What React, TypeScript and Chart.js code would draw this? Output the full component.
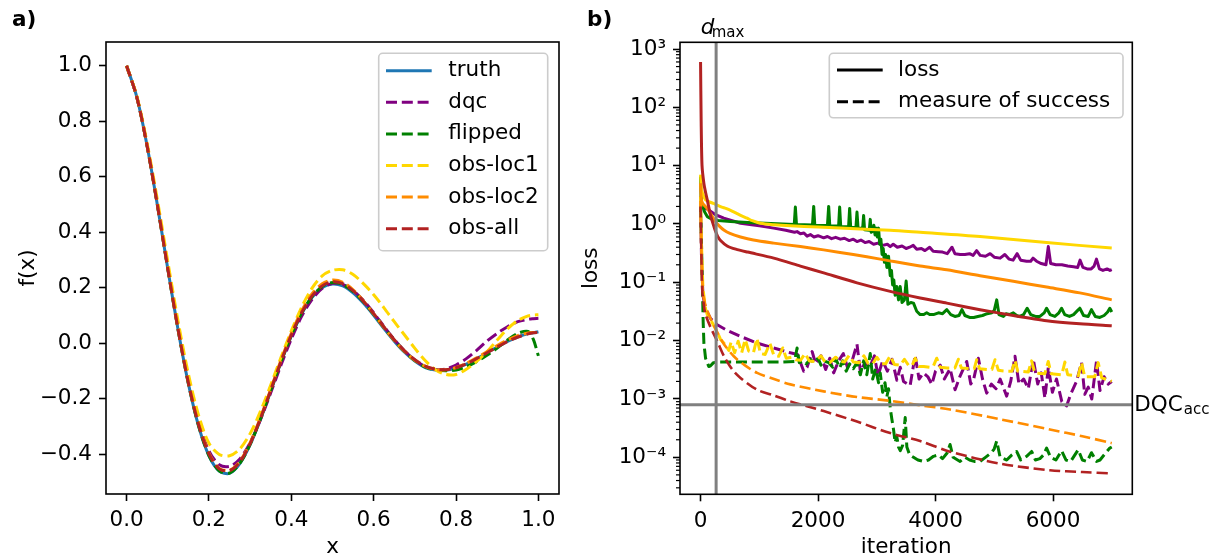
import React, { useEffect, useRef } from "react";
import { Chart, registerables } from "chart.js";

Chart.register(...registerables);

const FONT_FAMILY = '"DejaVu Sans", "Liberation Sans", sans-serif';
const FS = 21.5;
const DASH = [11, 4.8];

// ---------------- Panel a) : f(x) ----------------
const xGrid = [0, 0.025, 0.05, 0.075, 0.1, 0.125, 0.15, 0.175, 0.2, 0.225, 0.25, 0.275, 0.3, 0.325, 0.35, 0.375, 0.4, 0.425, 0.45, 0.475, 0.5, 0.525, 0.55, 0.575, 0.6, 0.625, 0.65, 0.675, 0.7, 0.725, 0.75, 0.775, 0.8, 0.825, 0.85, 0.875, 0.9, 0.925, 0.95, 0.975, 0.9875, 1.0];
const truthY = [1.0, 0.886, 0.71, 0.496, 0.269, 0.049, -0.145, -0.299, -0.405, -0.46, -0.468, -0.433, -0.365, -0.274, -0.172, -0.068, 0.026, 0.106, 0.165, 0.201, 0.214, 0.207, 0.182, 0.145, 0.101, 0.053, 0.008, -0.032, -0.064, -0.087, -0.096, -0.097, -0.089, -0.075, -0.056, -0.034, -0.013, 0.007, 0.023, 0.035, 0.038, 0.042];
const dqcY = [1.0, 0.886, 0.712, 0.5, 0.275, 0.058, -0.133, -0.284, -0.388, -0.437, -0.443, -0.416, -0.358, -0.275, -0.178, -0.078, 0.016, 0.097, 0.158, 0.198, 0.216, 0.212, 0.19, 0.155, 0.11, 0.061, 0.014, -0.027, -0.06, -0.083, -0.094, -0.092, -0.078, -0.055, -0.025, 0.008, 0.036, 0.06, 0.078, 0.087, 0.089, 0.09];
const flippedY = [1.0, 0.886, 0.71, 0.497, 0.27, 0.05, -0.144, -0.298, -0.404, -0.459, -0.467, -0.432, -0.364, -0.272, -0.169, -0.065, 0.029, 0.109, 0.168, 0.205, 0.219, 0.212, 0.187, 0.15, 0.105, 0.057, 0.011, -0.029, -0.062, -0.085, -0.096, -0.099, -0.096, -0.084, -0.066, -0.043, -0.017, 0.012, 0.036, 0.043, 0.015, -0.045];
const obsLoc1Y = [1.0, 0.89, 0.72, 0.515, 0.295, 0.08, -0.11, -0.26, -0.36, -0.4, -0.405, -0.38, -0.325, -0.245, -0.15, -0.05, 0.045, 0.13, 0.198, 0.243, 0.263, 0.265, 0.248, 0.215, 0.175, 0.128, 0.078, 0.03, -0.018, -0.062, -0.095, -0.112, -0.112, -0.093, -0.065, -0.03, 0.012, 0.052, 0.082, 0.099, 0.102, 0.103];
const obsLoc2Y = [1.0, 0.886, 0.711, 0.498, 0.272, 0.053, -0.14, -0.29, -0.395, -0.45, -0.457, -0.425, -0.358, -0.268, -0.165, -0.06, 0.036, 0.117, 0.178, 0.215, 0.228, 0.22, 0.193, 0.153, 0.106, 0.057, 0.011, -0.029, -0.061, -0.083, -0.094, -0.095, -0.087, -0.072, -0.052, -0.03, -0.008, 0.012, 0.028, 0.037, 0.039, 0.04];
const obsAllY = [1.0, 0.886, 0.71, 0.497, 0.27, 0.051, -0.142, -0.294, -0.398, -0.452, -0.458, -0.427, -0.361, -0.271, -0.169, -0.065, 0.03, 0.11, 0.17, 0.207, 0.222, 0.215, 0.19, 0.152, 0.107, 0.059, 0.013, -0.027, -0.059, -0.082, -0.093, -0.095, -0.088, -0.074, -0.055, -0.034, -0.013, 0.007, 0.023, 0.034, 0.038, 0.04];
const xTicksA = [0, 0.2, 0.4, 0.6, 0.8, 1.0];
const yTicksA = [-0.4, -0.2, 0, 0.2, 0.4, 0.6, 0.8, 1.0];
const legendLabelsA = ["truth", "dqc", "flipped", "obs-loc1", "obs-loc2", "obs-all"];
const colorsA = ["#1f77b4", "#800080", "#008000", "#ffd700", "#ff8c00", "#b22222"];

// ---------------- Panel b) : loss vs iteration ([iteration, value]) ----------------
const dqcLoss: [number, number][] = [[0, 3.0], [15, 2.3], [40, 2.0], [114, 1.8], [255, 1.44], [396, 1.26], [680, 1.03], [1000, 0.93], [1246, 0.85], [1450, 0.78], [1600, 0.72], [1643, 0.74], [1700, 0.68], [1760, 0.7], [1813, 0.62], [1870, 0.66], [1930, 0.6], [2000, 0.63], [2096, 0.58], [2160, 0.61], [2230, 0.56], [2300, 0.59], [2380, 0.55], [2450, 0.57], [2530, 0.52], [2600, 0.55], [2663, 0.5], [2730, 0.53], [2800, 0.48], [2870, 0.5], [2946, 0.45], [3020, 0.47], [3100, 0.43], [3180, 0.45], [3229, 0.41], [3280, 0.45], [3350, 0.4], [3430, 0.42], [3500, 0.38], [3560, 0.4], [3620, 0.43], [3680, 0.37], [3760, 0.38], [3820, 0.35], [3900, 0.4], [3960, 0.34], [4050, 0.335], [4120, 0.33], [4200, 0.31], [4280, 0.4], [4330, 0.31], [4420, 0.3], [4500, 0.3], [4580, 0.31], [4640, 0.29], [4700, 0.35], [4760, 0.29], [4850, 0.28], [4930, 0.31], [5000, 0.27], [5100, 0.26], [5180, 0.3], [5250, 0.25], [5320, 0.24], [5390, 0.31], [5450, 0.24], [5550, 0.23], [5620, 0.23], [5660, 0.26], [5720, 0.23], [5800, 0.21], [5880, 0.2], [5920, 0.41], [5960, 0.21], [6050, 0.2], [6150, 0.2], [6250, 0.19], [6350, 0.185], [6420, 0.18], [6460, 0.24], [6510, 0.18], [6580, 0.17], [6650, 0.17], [6700, 0.19], [6740, 0.25], [6790, 0.17], [6850, 0.16], [6920, 0.17], [6970, 0.16], [7000, 0.165]];
const dqcMS: [number, number][] = [[0, 2.5], [15, 0.3], [40, 0.06], [85, 0.035], [170, 0.024], [284, 0.0187], [450, 0.015], [680, 0.0118], [963, 0.0091], [1246, 0.0075], [1529, 0.0062], [1650, 0.0058], [1756, 0.003], [1813, 0.0035], [1900, 0.0065], [1960, 0.004], [2050, 0.0055], [2130, 0.0032], [2200, 0.005], [2266, 0.0028], [2350, 0.0045], [2430, 0.006], [2500, 0.0035], [2580, 0.0045], [2663, 0.0087], [2720, 0.003], [2800, 0.0042], [2880, 0.0035], [2960, 0.0055], [3020, 0.0025], [3100, 0.0045], [3180, 0.003], [3260, 0.0048], [3342, 0.0021], [3400, 0.0035], [3455, 0.002], [3568, 0.0017], [3653, 0.0056], [3720, 0.0022], [3795, 0.0028], [3870, 0.0024], [3937, 0.00178], [4000, 0.003], [4080, 0.0038], [4150, 0.0022], [4248, 0.0033], [4333, 0.00144], [4420, 0.0025], [4531, 0.0044], [4600, 0.0018], [4650, 0.0022], [4729, 0.005], [4800, 0.0022], [4871, 0.00126], [4950, 0.0018], [5030, 0.0015], [5100, 0.0022], [5211, 0.00112], [5280, 0.002], [5353, 0.0054], [5420, 0.0018], [5500, 0.0022], [5580, 0.0015], [5664, 0.0048], [5740, 0.0018], [5800, 0.0028], [5862, 0.00104], [5920, 0.0035], [5990, 0.0013], [6060, 0.0022], [6150, 0.0009], [6231, 0.00076], [6300, 0.0012], [6400, 0.002], [6486, 0.0042], [6540, 0.0012], [6600, 0.0016], [6660, 0.001], [6741, 0.0045], [6800, 0.0014], [6870, 0.0024], [6940, 0.0018], [7000, 0.002]];
const flippedLoss: [number, number][] = [[0, 6.5], [10, 2.5], [30, 2.1], [70, 1.6], [114, 1.34], [200, 1.2], [300, 1.15], [510, 1.1], [800, 1.06], [1100, 1.03], [1400, 1.0], [1595, 0.98], [1614, 1.95], [1633, 0.98], [1905, 0.96], [1926, 2.0], [1945, 0.95], [2160, 0.94], [2181, 2.0], [2200, 0.93], [2350, 0.92], [2368, 1.95], [2386, 0.91], [2520, 0.9], [2538, 1.85], [2556, 0.88], [2645, 0.87], [2663, 1.6], [2681, 0.85], [2760, 0.84], [2776, 1.4], [2792, 0.8], [2872, 0.78], [2889, 1.2], [2905, 0.72], [2930, 0.75], [2950, 0.95], [2970, 0.65], [2990, 0.85], [3010, 0.6], [3030, 0.85], [3050, 0.45], [3070, 0.55], [3090, 0.3], [3110, 0.38], [3130, 0.22], [3150, 0.3], [3172, 0.18], [3200, 0.28], [3229, 0.13], [3250, 0.16], [3270, 0.09], [3290, 0.11], [3313, 0.06], [3340, 0.085], [3370, 0.05], [3398, 0.085], [3430, 0.045], [3470, 0.05], [3500, 0.105], [3530, 0.042], [3580, 0.045], [3625, 0.044], [3680, 0.032], [3738, 0.028], [3800, 0.028], [3850, 0.03], [3900, 0.028], [3965, 0.028], [4050, 0.03], [4120, 0.029], [4192, 0.034], [4260, 0.028], [4330, 0.026], [4400, 0.027], [4450, 0.034], [4500, 0.027], [4580, 0.025], [4650, 0.025], [4720, 0.026], [4800, 0.027], [4880, 0.029], [4960, 0.03], [5000, 0.033], [5042, 0.05], [5080, 0.028], [5155, 0.026], [5200, 0.029], [5260, 0.028], [5324, 0.03], [5380, 0.027], [5430, 0.026], [5500, 0.028], [5560, 0.036], [5620, 0.028], [5700, 0.026], [5777, 0.026], [5850, 0.03], [5891, 0.036], [5950, 0.028], [6032, 0.026], [6100, 0.03], [6146, 0.036], [6200, 0.028], [6280, 0.026], [6350, 0.028], [6420, 0.033], [6457, 0.036], [6520, 0.027], [6600, 0.026], [6655, 0.034], [6720, 0.026], [6797, 0.025], [6870, 0.027], [6930, 0.031], [6967, 0.036], [7000, 0.031]];
const flippedMS: [number, number][] = [[0, 2.0], [15, 0.5], [29, 0.11], [45, 0.02], [57, 0.009], [85, 0.005], [114, 0.0042], [140, 0.0036], [170, 0.0037], [220, 0.0042], [300, 0.0043], [600, 0.0043], [1000, 0.0043], [1400, 0.0043], [1600, 0.0044], [1643, 0.0075], [1680, 0.0042], [1750, 0.0045], [1800, 0.004], [1870, 0.0048], [1926, 0.0042], [2000, 0.005], [2050, 0.0038], [2100, 0.0045], [2181, 0.0042], [2250, 0.0035], [2300, 0.005], [2368, 0.0034], [2420, 0.0045], [2480, 0.003], [2538, 0.004], [2600, 0.0033], [2663, 0.0042], [2720, 0.0026], [2776, 0.0045], [2830, 0.0026], [2889, 0.006], [2930, 0.0022], [2980, 0.0033], [3030, 0.0019], [3059, 0.0028], [3100, 0.0013], [3140, 0.0019], [3172, 0.0011], [3200, 0.0015], [3229, 0.0007], [3257, 0.00045], [3285, 0.0003], [3313, 0.00018], [3340, 0.00023], [3370, 0.00015], [3400, 0.00013], [3440, 0.00016], [3484, 0.00048], [3512, 0.00015], [3560, 0.00011], [3625, 0.0001], [3700, 0.00009], [3795, 0.000085], [3880, 0.00009], [3965, 0.000104], [4050, 0.00011], [4120, 0.000095], [4200, 0.00012], [4248, 0.000166], [4300, 0.0001], [4418, 0.000085], [4500, 0.0001], [4580, 0.00009], [4660, 0.000085], [4758, 0.000085], [4850, 0.0001], [4950, 0.00012], [5000, 0.00014], [5042, 0.00019], [5100, 0.0001], [5212, 0.00009], [5300, 0.00011], [5381, 0.000126], [5450, 0.00009], [5551, 0.000104], [5636, 0.000126], [5700, 0.00009], [5777, 0.000095], [5840, 0.00011], [5891, 0.000144], [5960, 0.0001], [6050, 0.00009], [6146, 0.00013], [6220, 0.00009], [6300, 0.000085], [6429, 0.000135], [6500, 0.00009], [6580, 0.000085], [6655, 0.00012], [6740, 0.000085], [6800, 0.00009], [6900, 0.00012], [6967, 0.000144], [7000, 0.00015]];
const obsLoc1Loss: [number, number][] = [[0, 7.0], [15, 3.9], [40, 3.2], [85, 2.6], [150, 2.4], [220, 2.25], [284, 2.1], [360, 1.95], [430, 1.85], [510, 1.72], [600, 1.55], [700, 1.38], [793, 1.26], [880, 1.14], [1020, 1.03], [1250, 0.97], [1529, 0.93], [2000, 0.89], [2379, 0.85], [3229, 0.78], [3738, 0.72], [4758, 0.61], [5891, 0.48], [7000, 0.386]];
const obsLoc1MS: [number, number][] = [[0, 3.0], [15, 0.5], [40, 0.08], [85, 0.035], [114, 0.028], [170, 0.023], [226, 0.018], [284, 0.014], [340, 0.0105], [400, 0.009], [481, 0.0068], [520, 0.0095], [580, 0.0062], [640, 0.0098], [700, 0.0062], [760, 0.0105], [820, 0.0066], [900, 0.0062], [960, 0.011], [1020, 0.006], [1100, 0.0058], [1180, 0.009], [1250, 0.0055], [1330, 0.0054], [1400, 0.0075], [1460, 0.005], [1550, 0.0052], [1620, 0.0047], [1700, 0.0046], [1780, 0.006], [1850, 0.0045], [1950, 0.0044], [2050, 0.0055], [2120, 0.0043], [2200, 0.0042], [2300, 0.0052], [2380, 0.0044], [2450, 0.0043], [2530, 0.0056], [2600, 0.0043], [2700, 0.0042], [2780, 0.0055], [2850, 0.0041], [2930, 0.004], [3000, 0.0052], [3080, 0.004], [3150, 0.004], [3230, 0.0055], [3300, 0.0039], [3400, 0.0038], [3470, 0.0048], [3540, 0.0038], [3600, 0.0037], [3653, 0.005], [3720, 0.0036], [3800, 0.0036], [3900, 0.0035], [3960, 0.0036], [4021, 0.005], [4080, 0.0035], [4200, 0.0034], [4330, 0.0034], [4389, 0.0048], [4440, 0.0034], [4600, 0.0033], [4660, 0.0033], [4700, 0.0047], [4750, 0.0033], [4900, 0.0032], [4960, 0.0032], [5013, 0.0047], [5070, 0.0031], [5200, 0.003], [5300, 0.003], [5353, 0.0046], [5400, 0.003], [5580, 0.0029], [5636, 0.0045], [5690, 0.0028], [5860, 0.0027], [5919, 0.0044], [5970, 0.0027], [6150, 0.0026], [6202, 0.0043], [6250, 0.0026], [6430, 0.0025], [6486, 0.0042], [6540, 0.0024], [6710, 0.0024], [6769, 0.0042], [6830, 0.0023], [6950, 0.0021], [7000, 0.002]];
const obsLoc2Loss: [number, number][] = [[0, 5.0], [10, 2.8], [30, 2.3], [70, 2.05], [114, 1.86], [180, 1.45], [255, 1.1], [320, 0.92], [396, 0.79], [500, 0.69], [680, 0.6], [900, 0.53], [1246, 0.47], [1700, 0.41], [2096, 0.36], [2600, 0.3], [3059, 0.25], [3738, 0.19], [4192, 0.164], [4758, 0.13], [5324, 0.104], [5891, 0.083], [6457, 0.066], [7000, 0.05]];
const obsLoc2MS: [number, number][] = [[0, 2.5], [15, 0.3], [40, 0.07], [85, 0.04], [170, 0.024], [284, 0.014], [396, 0.0088], [566, 0.0054], [750, 0.0038], [963, 0.0028], [1250, 0.0022], [1529, 0.00178], [2096, 0.00135], [2663, 0.00108], [3229, 0.00093], [3738, 0.00078], [4248, 0.00066], [5098, 0.00045], [5947, 0.0003], [6500, 0.00023], [7000, 0.000175]];
const obsAllLoss: [number, number][] = [[0, 600], [10, 60], [25, 10], [56, 5.0], [85, 3.5], [114, 2.6], [170, 1.4], [226, 0.92], [255, 0.75], [290, 0.62], [340, 0.52], [453, 0.42], [600, 0.37], [800, 0.33], [1246, 0.26], [1700, 0.19], [2096, 0.145], [2663, 0.098], [3229, 0.07], [3738, 0.054], [4192, 0.044], [4758, 0.034], [5324, 0.027], [5891, 0.022], [6457, 0.0195], [7000, 0.018]];
const obsAllMS: [number, number][] = [[0, 2.0], [10, 0.5], [29, 0.074], [57, 0.04], [85, 0.028], [170, 0.017], [284, 0.0098], [396, 0.0055], [540, 0.0032], [680, 0.0023], [963, 0.00144], [1250, 0.00115], [1529, 0.00091], [2096, 0.00062], [2663, 0.00041], [3229, 0.00026], [3738, 0.00019], [4248, 0.000125], [5098, 0.000078], [5947, 0.00006], [6500, 0.000056], [7000, 0.000053]];
const dMaxIteration = 265;
const dqcAccuracy = 8e-4;
const xTicksB = [0, 2000, 4000, 6000];
const yExpTicksB = [-4, -3, -2, -1, 0, 1, 2, 3];
const legendLabelsB = ["loss", "measure of success"];

// ---------------- helpers ----------------
const font = (size: number, extra = "") => `${extra}${size}px ${FONT_FAMILY}`;

function pairs(xs: number[], ys: number[]) {
  return xs.map((x, i) => ({ x, y: ys[i] }));
}
function fromPairs(p: [number, number][]) {
  return p.map(([x, y]) => ({ x, y }));
}

function lineDs(label: string, data: any[], color: string, dashed: boolean, tension: number, width = 3) {
  return {
    label,
    data,
    borderColor: color,
    backgroundColor: color,
    borderWidth: width,
    borderDash: dashed ? DASH : [],
    borderCapStyle: "butt",
    borderJoinStyle: "round",
    pointRadius: 0,
    pointHoverRadius: 0,
    fill: false,
    tension,
  };
}

const SUP: Record<string, string> = { "-": "\u207B", "0": "\u2070", "1": "\u00B9", "2": "\u00B2", "3": "\u00B3", "4": "\u2074", "5": "\u2075", "6": "\u2076", "7": "\u2077", "8": "\u2078", "9": "\u2079" };
const supStr = (n: number) => String(n).split("").map((c) => SUP[c] || c).join("");
const fmtA = (v: number) => (Math.abs(v) < 1e-9 ? "0.0" : (v < 0 ? "\u2212" : "") + Math.abs(v).toFixed(1));

const gridStyle = {
  display: true,
  drawOnChartArea: false,
  drawTicks: true,
  tickLength: 7,
  tickWidth: 1.6,
  tickColor: "#000",
  color: "#000",
};
const tickStyle = {
  color: "#000",
  font: { family: FONT_FAMILY, size: FS },
  padding: 7,
  autoSkip: false,
  maxRotation: 0,
  minRotation: 0,
};

function roundRectPath(ctx: CanvasRenderingContext2D, x: number, y: number, w: number, h: number, r: number) {
  ctx.beginPath();
  ctx.moveTo(x + r, y);
  ctx.lineTo(x + w - r, y);
  ctx.arcTo(x + w, y, x + w, y + r, r);
  ctx.lineTo(x + w, y + h - r);
  ctx.arcTo(x + w, y + h, x + w - r, y + h, r);
  ctx.lineTo(x + r, y + h);
  ctx.arcTo(x, y + h, x, y + h - r, r);
  ctx.lineTo(x, y + r);
  ctx.arcTo(x, y, x + r, y, r);
  ctx.closePath();
}

type LegendEntry = { label: string; color: string; dash: number[] };
function drawLegend(ctx: CanvasRenderingContext2D, box: { x: number; y: number; w: number; h: number }, entries: LegendEntry[], y0: number, dy: number, hx1: number, hx2: number, tx: number) {
  ctx.save();
  roundRectPath(ctx, box.x, box.y, box.w, box.h, 4);
  ctx.fillStyle = "rgba(255,255,255,0.8)";
  ctx.fill();
  ctx.strokeStyle = "#cccccc";
  ctx.lineWidth = 1.6;
  ctx.stroke();
  entries.forEach((e, i) => {
    const y = y0 + i * dy;
    ctx.beginPath();
    ctx.setLineDash(e.dash);
    ctx.lineCap = "butt";
    ctx.strokeStyle = e.color;
    ctx.lineWidth = 3;
    ctx.moveTo(hx1, y);
    ctx.lineTo(hx2, y);
    ctx.stroke();
    ctx.setLineDash([]);
    ctx.fillStyle = "#000";
    ctx.font = font(FS);
    ctx.textBaseline = "middle";
    ctx.textAlign = "left";
    ctx.fillText(e.label, tx, y);
  });
  ctx.restore();
}

const framePlugin = {
  id: "frame",
  afterDatasetsDraw(chart: any) {
    const { ctx, chartArea: a } = chart;
    ctx.save();
    ctx.strokeStyle = "#000";
    ctx.lineWidth = 1.6;
    ctx.setLineDash([]);
    ctx.strokeRect(a.left, a.top, a.right - a.left, a.bottom - a.top);
    ctx.restore();
  },
};

// ---------------- configs ----------------
function makeConfigA(): any {
  const series = [truthY, dqcY, flippedY, obsLoc1Y, obsLoc2Y, obsAllY];
  const datasets = series.map((ys, i) => lineDs(legendLabelsA[i], pairs(xGrid, ys), colorsA[i], i > 0, 0.3));
  datasets.forEach((d: any, i) => (d.order = datasets.length - i));

  const legendPlugin = {
    id: "legendA",
    afterDraw(chart: any) {
      const entries = legendLabelsA.map((l, i) => ({ label: l, color: colorsA[i], dash: i > 0 ? DASH : [] }));
      drawLegend(chart.ctx, { x: 378.7, y: 53.3, w: 169, h: 197.4 }, entries, 70.7, 31.6, 386, 431.7, 448.3);
      const ctx = chart.ctx;
      ctx.save();
      ctx.fillStyle = "#000";
      ctx.font = font(FS, "bold ");
      ctx.textBaseline = "alphabetic";
      ctx.textAlign = "left";
      ctx.fillText("a)", 12, 26);
      ctx.restore();
    },
  };

  return {
    type: "line",
    data: { datasets },
    plugins: [framePlugin, legendPlugin],
    options: {
      animation: false,
      responsive: false,
      devicePixelRatio: 1,
      events: [],
      layout: { padding: { left: 0, top: 42, right: 11, bottom: 0 } },
      plugins: { legend: { display: false }, tooltip: { enabled: false } },
      scales: {
        x: {
          type: "linear",
          min: -0.05,
          max: 1.05,
          afterBuildTicks: (s: any) => {
            s.ticks = xTicksA.map((v) => ({ value: v }));
          },
          afterFit: (s: any) => {
            s.height = 65;
          },
          ticks: { ...tickStyle, callback: (v: any) => fmtA(Number(v)) },
          grid: gridStyle,
          border: { display: false },
          title: { display: true, text: "x", color: "#000", font: { family: FONT_FAMILY, size: FS }, padding: { top: 0, bottom: -1 } },
        },
        y: {
          type: "linear",
          min: -0.5425,
          max: 1.0853,
          afterBuildTicks: (s: any) => {
            s.ticks = yTicksA.map((v) => ({ value: v }));
          },
          afterFit: (s: any) => {
            s.width = 106;
          },
          ticks: { ...tickStyle, callback: (v: any) => fmtA(Number(v)) },
          grid: gridStyle,
          border: { display: false },
          title: { display: true, text: "f(x)", color: "#000", font: { family: FONT_FAMILY, size: FS }, padding: { top: 16, bottom: 0 } },
        },
      },
    },
  };
}

function makeConfigB(): any {
  const yMin = Math.pow(10, -4.634);
  const yMax = Math.pow(10, 3.115);
  const xMin = -350;
  const xMax = 7350;
  const P = "#800080", G = "#008000", Y = "#ffd700", O = "#ff8c00", R = "#b22222";
  const datasets: any[] = [
    lineDs("dqc loss", fromPairs(dqcLoss), P, false, 0),
    lineDs("dqc ms", fromPairs(dqcMS), P, true, 0),
    lineDs("flipped loss", fromPairs(flippedLoss), G, false, 0),
    lineDs("flipped ms", fromPairs(flippedMS), G, true, 0),
    lineDs("obs-loc1 loss", fromPairs(obsLoc1Loss), Y, false, 0.3),
    lineDs("obs-loc1 ms", fromPairs(obsLoc1MS), Y, true, 0),
    lineDs("obs-loc2 loss", fromPairs(obsLoc2Loss), O, false, 0.3),
    lineDs("obs-loc2 ms", fromPairs(obsLoc2MS), O, true, 0.3, 2.6),
    lineDs("obs-all loss", fromPairs(obsAllLoss), R, false, 0.25),
    lineDs("obs-all ms", fromPairs(obsAllMS), R, true, 0.3, 2.6),
    lineDs("DQC acc", [{ x: xMin, y: dqcAccuracy }, { x: xMax, y: dqcAccuracy }], "#808080", false, 0, 3),
    lineDs("d max", [{ x: dMaxIteration, y: yMin }, { x: dMaxIteration, y: yMax }], "#808080", false, 0, 3),
  ];
  datasets.forEach((d, i) => (d.order = datasets.length - i));

  const extraPlugin = {
    id: "extraB",
    afterDraw(chart: any) {
      const { ctx, chartArea: a } = chart;
      const ys = chart.scales.y;
      const xs = chart.scales.x;
      ctx.save();
      // minor log ticks
      ctx.strokeStyle = "#000";
      ctx.lineWidth = 1.2;
      for (let e = -5; e <= 3; e++) {
        for (let k = 2; k <= 9; k++) {
          const v = k * Math.pow(10, e);
          if (v < yMin || v > yMax) continue;
          const py = ys.getPixelForValue(v);
          ctx.beginPath();
          ctx.moveTo(a.left - 4, py);
          ctx.lineTo(a.left, py);
          ctx.stroke();
        }
      }
      // legend
      drawLegend(
        ctx,
        { x: 829.3 - 570, y: 53.3, w: 1123 - 829.3, h: 64.5 },
        [
          { label: legendLabelsB[0], color: "#000", dash: [] },
          { label: legendLabelsB[1], color: "#000", dash: DASH },
        ],
        70,
        31.7,
        837 - 570,
        882.7 - 570,
        898 - 570
      );
      // panel label
      ctx.fillStyle = "#000";
      ctx.textAlign = "left";
      ctx.textBaseline = "alphabetic";
      ctx.font = font(FS, "bold ");
      ctx.fillText("b)", 587 - 570, 26);
      // d_max label
      const xl = xs.getPixelForValue(dMaxIteration);
      ctx.font = font(FS, "italic ");
      ctx.fillText("d", xl - 15.5, 34);
      ctx.font = font(15);
      ctx.fillText("max", xl - 4.5, 37);
      // DQC_acc label
      const yl = ys.getPixelForValue(dqcAccuracy);
      ctx.font = font(FS);
      ctx.fillText("DQC", a.right + 2, yl + 6.5);
      const w = ctx.measureText("DQC").width;
      ctx.font = font(15);
      ctx.fillText("acc", a.right + 2 + w + 1, yl + 9);
      ctx.restore();
    },
  };

  return {
    type: "line",
    data: { datasets },
    plugins: [framePlugin, extraPlugin],
    options: {
      animation: false,
      responsive: false,
      devicePixelRatio: 1,
      events: [],
      layout: { padding: { left: 0, top: 42.3, right: 79.7, bottom: 0 } },
      plugins: { legend: { display: false }, tooltip: { enabled: false } },
      scales: {
        x: {
          type: "linear",
          min: xMin,
          max: xMax,
          afterBuildTicks: (s: any) => {
            s.ticks = xTicksB.map((v) => ({ value: v }));
          },
          afterFit: (s: any) => {
            s.height = 64.7;
          },
          ticks: { ...tickStyle, callback: (v: any) => String(Math.round(Number(v))) },
          grid: gridStyle,
          border: { display: false },
          title: { display: true, text: "iteration", color: "#000", font: { family: FONT_FAMILY, size: FS }, padding: { top: 0, bottom: -1 } },
        },
        y: {
          type: "logarithmic",
          min: yMin,
          max: yMax,
          afterBuildTicks: (s: any) => {
            s.ticks = yExpTicksB.map((e) => ({ value: Math.pow(10, e) }));
          },
          afterFit: (s: any) => {
            s.width = 110;
          },
          ticks: { ...tickStyle, callback: (v: any) => "10" + supStr(Math.round(Math.log10(Number(v)))) },
          grid: gridStyle,
          border: { display: false },
          title: { display: true, text: "loss", color: "#000", font: { family: FONT_FAMILY, size: FS }, padding: { top: 9, bottom: 0 } },
        },
      },
    },
  };
}

export default function App() {
  const refA = useRef<HTMLCanvasElement>(null);
  const refB = useRef<HTMLCanvasElement>(null);
  useEffect(() => {
    const a = new Chart(refA.current as HTMLCanvasElement, makeConfigA());
    const b = new Chart(refB.current as HTMLCanvasElement, makeConfigB());
    return () => {
      a.destroy();
      b.destroy();
    };
  }, []);
  return (
    <div style={{ position: "absolute", left: 0, top: 0, width: 1212, height: 559, background: "#fff", overflow: "hidden" }}>
      <canvas ref={refA} width={570} height={559} style={{ position: "absolute", left: 0, top: 0 }} />
      <canvas ref={refB} width={642} height={559} style={{ position: "absolute", left: 570, top: 0 }} />
    </div>
  );
}
